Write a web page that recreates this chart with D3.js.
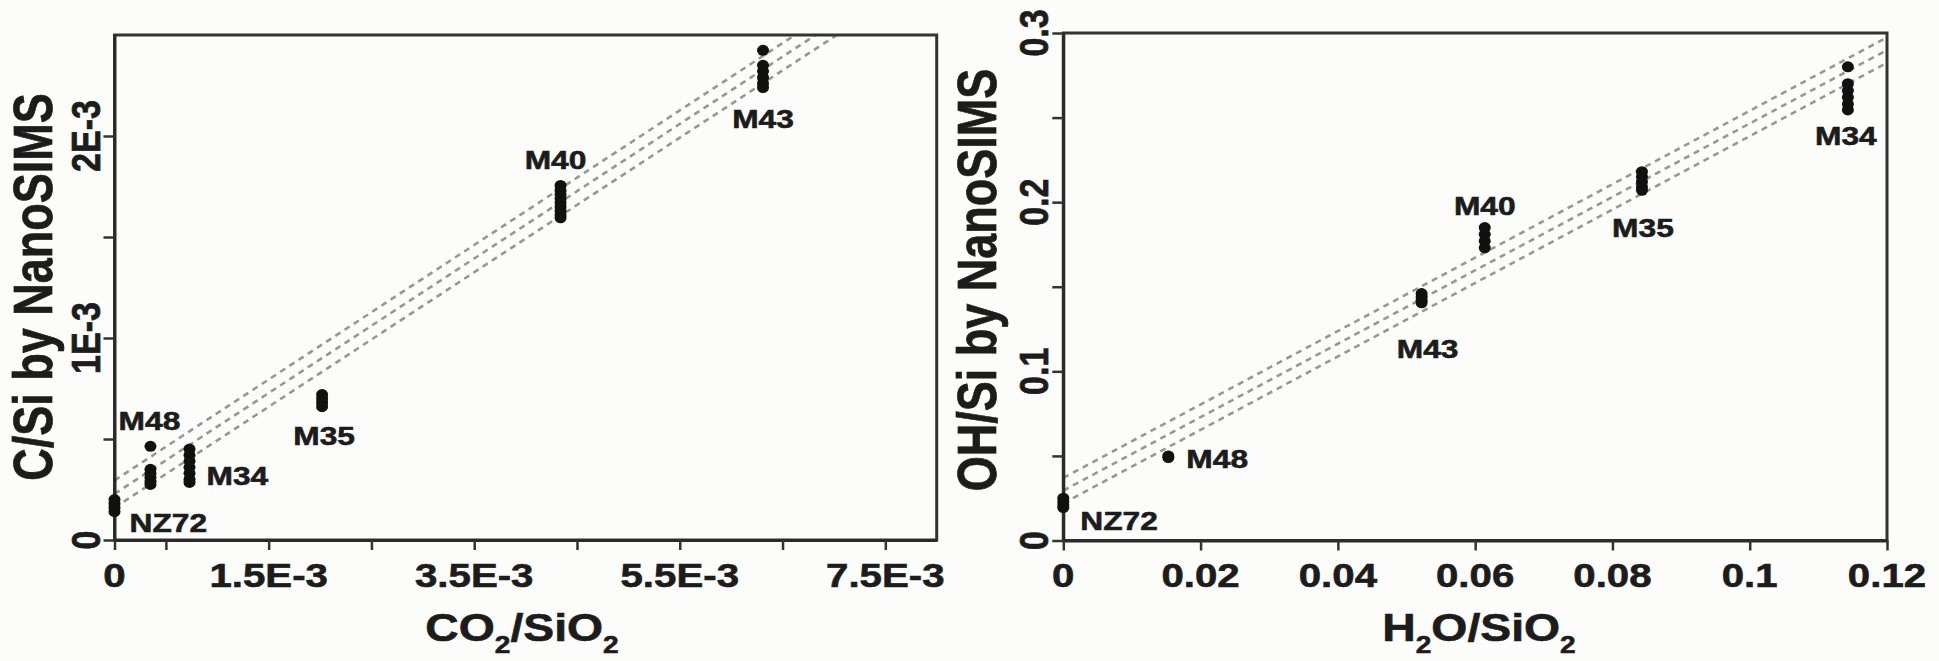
<!DOCTYPE html>
<html>
<head>
<meta charset="utf-8">
<script src="https://cdn.jsdelivr.net/npm/d3@7"></script>
<style>
  html, body { margin: 0; padding: 0; background: #fcfcfa; }
  svg { display: block; }
  text { font-family: "Liberation Sans", Arial, sans-serif; font-weight: bold; fill: #1c1c1c; stroke: #1c1c1c; stroke-width: 0.6px; }
</style>
</head>
<body>
<svg id="chart" width="1939" height="661"></svg>
<script>
  // ---- data ----
  // left panel: C/Si measured by NanoSIMS vs CO2/SiO2 of the standards
  var leftSamples = ["NZ72", "M48", "M34", "M35", "M40", "M43"];
  var leftCO2 = [0, 0.00035, 0.00073, 0.00202, 0.00434, 0.00631];
  var leftCSi = [
    [0.00014, 0.00016, 0.00018, 0.0002],
    [0.000464, 0.00035, 0.00033, 0.00031, 0.00029, 0.000275],
    [0.00045, 0.00042, 0.00039, 0.00036, 0.00033, 0.0003, 0.000285],
    [0.00072, 0.0007, 0.00068, 0.00066],
    [0.001755, 0.00173, 0.00171, 0.00169, 0.00167, 0.00165, 0.00163, 0.00161, 0.001595],
    [0.002424, 0.00235, 0.00232, 0.00229, 0.00226, 0.00224]
  ];
  // calibration line and its bounds: [intercept, slope]
  var leftFit = [[0.000295, 0.333], [0.000228, 0.333], [0.00016, 0.333]];
  var leftXTicks = [0, 0.0005, 0.0015, 0.0025, 0.0035, 0.0045, 0.0055, 0.0065, 0.0075];
  var leftXLabels = [[0, "0"], [0.0015, "1.5E-3"], [0.0035, "3.5E-3"], [0.0055, "5.5E-3"], [0.0075, "7.5E-3"]];
  var leftYTicks = [0, 0.0005, 0.001, 0.0015, 0.002];
  var leftYLabels = [[0, "0"], [0.001, "1E-3"], [0.002, "2E-3"]];

  // right panel: OH/Si measured by NanoSIMS vs H2O/SiO2
  var rightSamples = ["NZ72", "M48", "M43", "M40", "M35", "M34"];
  var rightH2O = [0, 0.0153, 0.0522, 0.0614, 0.0843, 0.1143];
  var rightOHSi = [
    [0.025, 0.023, 0.021, 0.0195],
    [0.05, 0.049],
    [0.146, 0.144, 0.142, 0.1405],
    [0.185, 0.181, 0.177, 0.173],
    [0.218, 0.215, 0.212, 0.209, 0.207],
    [0.28, 0.27, 0.266, 0.262, 0.258, 0.2545]
  ];
  var rightFit = [[0.037, 2.17], [0.0295, 2.17], [0.022, 2.17]];
  var rightXTicks = [0, 0.02, 0.04, 0.06, 0.08, 0.1, 0.12];
  var rightXLabels = [[0, "0"], [0.02, "0.02"], [0.04, "0.04"], [0.06, "0.06"], [0.08, "0.08"], [0.1, "0.1"], [0.12, "0.12"]];
  var rightYTicks = [0, 0.05, 0.1, 0.15, 0.2, 0.25, 0.3];
  var rightYLabels = [[0, "0"], [0.1, "0.1"], [0.2, "0.2"], [0.3, "0.3"]];

  // ---- layout ----
  var SX = 1.22; // lettering in the source is wide
  var svg = d3.select("#chart");

  // text placed with the horizontal stretch of the source image
  function stext(g, x, y, str, size, anchor, rot) {
    return g.append("text")
      .attr("transform", "translate(" + x + "," + y + ") scale(" + SX + ",1)" + (rot ? " rotate(" + rot + ")" : ""))
      .attr("font-size", size)
      .attr("text-anchor", anchor || "middle")
      .text(str);
  }

  var panels = [
    {
      x: d3.scaleLinear().domain([0, 0.008]).range([114.5, 936.7]),
      y: d3.scaleLinear().domain([0, 0.0025]).range([540, 35]),
      xs: leftCO2, ys: leftCSi, names: leftSamples, fit: leftFit,
      xTicks: leftXTicks, xLabels: leftXLabels, yTicks: leftYTicks, yLabels: leftYLabels,
      // label offsets from the cluster centre, in px
      place: [[15, 26, "start"], [-1, -42, "middle"], [17, 18, "start"], [2, 44, "middle"], [-5, -33, "middle"], [0, 55, "middle"]],
      ytitle: "C/Si by NanoSIMS", ytx: 52, yty: 287,
      xtitle: ["CO", "2", "/SiO", "2"], xtx: 522
    },
    {
      x: d3.scaleLinear().domain([0, 0.12]).range([1063.3, 1887]),
      y: d3.scaleLinear().domain([0, 0.3]).range([540.5, 33]),
      xs: rightH2O, ys: rightOHSi, names: rightSamples, fit: rightFit,
      xTicks: rightXTicks, xLabels: rightXLabels, yTicks: rightYTicks, yLabels: rightYLabels,
      place: [[17, 27, "start"], [18, 11.5, "start"], [6, 60, "middle"], [0, -23, "middle"], [1, 55, "middle"], [-2, 53, "middle"]],
      ytitle: "OH/Si by NanoSIMS", ytx: 996, yty: 280,
      xtitle: ["H", "2", "O/SiO", "2"], xtx: 1479
    }
  ];

  panels.forEach(function(p, pi) {
    var g = svg.append("g");
    var x0 = p.x.range()[0], x1 = p.x.range()[1];
    var y0 = p.y.range()[0], y1 = p.y.range()[1];
    var xEnd = p.x.domain()[1] * 1.05;

    // clip for the dashed lines
    svg.append("clipPath").attr("id", "clip" + pi)
      .append("rect")
      .attr("x", x0).attr("y", y1)
      .attr("width", x1 - x0).attr("height", y0 - y1);

    // dashed calibration lines
    g.append("g").attr("clip-path", "url(#clip" + pi + ")")
      .selectAll("line")
      .data(p.fit)
      .enter().append("line")
      .attr("x1", p.x(0))
      .attr("y1", function(d) { return p.y(d[0]); })
      .attr("x2", p.x(xEnd))
      .attr("y2", function(d) { return p.y(d[0] + d[1] * xEnd); })
      .attr("stroke", "#979797")
      .attr("stroke-width", 2.6)
      .attr("stroke-dasharray", "6,5");

    // frame
    g.append("rect")
      .attr("x", x0).attr("y", y1)
      .attr("width", x1 - x0).attr("height", y0 - y1)
      .attr("fill", "none")
      .attr("stroke", "#333")
      .attr("stroke-width", 3);

    // ticks from d3 axes, labels drawn separately (stretched / rotated)
    var xAxis = d3.axisBottom(p.x).tickValues(p.xTicks).tickSize(10).tickSizeOuter(0).tickFormat("");
    g.append("g").attr("transform", "translate(0," + y0 + ")").call(xAxis)
      .call(function(a) {
        a.select(".domain").attr("stroke", "#2a2a2a").attr("stroke-width", 3);
        a.selectAll(".tick line").attr("stroke", "#333").attr("stroke-width", 2.5);
      });
    var yAxis = d3.axisLeft(p.y).tickValues(p.yTicks).tickSize(11).tickSizeOuter(0).tickFormat("");
    g.append("g").attr("transform", "translate(" + x0 + ",0)").call(yAxis)
      .call(function(a) {
        a.select(".domain").attr("stroke", "#2a2a2a").attr("stroke-width", 3);
        a.selectAll(".tick line").attr("stroke", "#333").attr("stroke-width", 2.5);
      });

    p.xLabels.forEach(function(t) {
      stext(g, p.x(t[0]), 587, t[1], 33, "middle");
    });
    p.yLabels.forEach(function(t) {
      stext(g, x0 - 15, p.y(t[0]), t[1], 34, "middle", -90);
    });

    // axis titles
    stext(g, p.ytx, p.yty, p.ytitle, 45, "middle", -90);
    var xt = stext(g, p.xtx, 641, "", 38, "middle");
    p.xtitle.forEach(function(s, i) {
      var sub = i % 2 === 1;
      xt.append("tspan")
        .attr("font-size", sub ? 23 : 38)
        .attr("dy", sub ? 12 : (i > 0 ? -12 : 0))
        .text(s);
    });

    // points, one group per sample
    var pts = [];
    p.ys.forEach(function(vals, i) {
      vals.forEach(function(v) { pts.push([p.xs[i], v]); });
    });
    g.append("g").selectAll("ellipse")
      .data(pts)
      .enter().append("ellipse")
      .attr("cx", function(d) { return p.x(d[0]); })
      .attr("cy", function(d) { return p.y(d[1]); })
      .attr("rx", 6)
      .attr("ry", 5.5)
      .attr("fill", "#111");

    // sample labels
    p.names.forEach(function(n, i) {
      var cx = p.x(p.xs[i]), cy = p.y(d3.mean(p.ys[i]));
      var pl = p.place[i];
      stext(g, cx + pl[0], cy + pl[1], n, 26, pl[2]);
    });
  });
</script>
</body>
</html>
